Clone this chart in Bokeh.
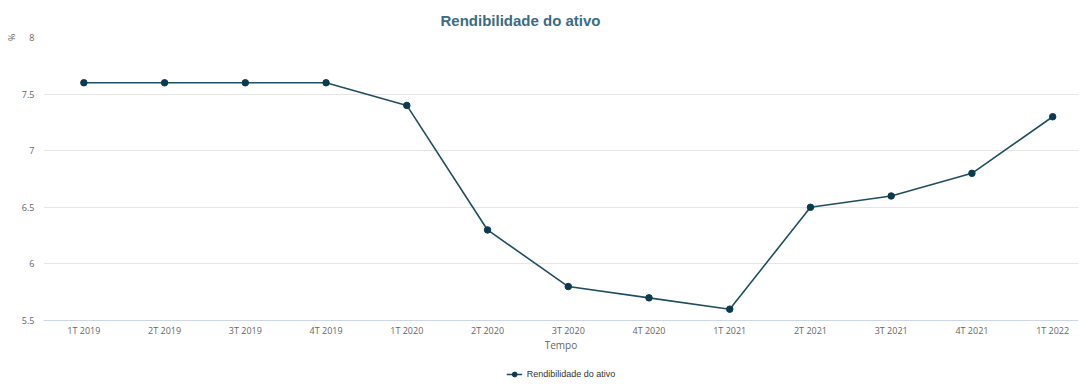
from bokeh.plotting import figure
from bokeh.models import Range1d, Legend, LegendItem, Title, FixedTicker
from bokeh.layouts import column
from bokeh.embed import file_html
from bokeh.resources import INLINE

categories = ["1T 2019", "2T 2019", "3T 2019", "4T 2019", "1T 2020", "2T 2020", "3T 2020",
              "4T 2020", "1T 2021", "2T 2021", "3T 2021", "4T 2021", "1T 2022"]
values = [7.6, 7.6, 7.6, 7.6, 7.4, 6.3, 5.8, 5.7, 5.6, 6.5, 6.6, 6.8, 7.3]
y_ticks = [5.5, 6, 6.5, 7, 7.5, 8]
y_tick_labels = ["5.5", "6", "6.5", "7", "7.5", "8"]
title_text = "Rendibilidade do ativo"
series_name = "Rendibilidade do ativo"
y_title = "%"

LINE_COLOR = "#1f4e63"
MARKER_COLOR = "#0c3a4f"

xs = list(range(len(categories)))

p = figure(width=1080, height=354, output_backend="svg", toolbar_location=None,
           x_range=Range1d(-0.5, 12.32), y_range=Range1d(5.5, 8),
           min_border_left=43, min_border_right=2, min_border_top=37, min_border_bottom=32)
p.outline_line_color = None
p.background_fill_color = "white"

p.title = Title(text=title_text, align="left", offset=397, standoff=18,
                text_font="Liberation Sans", text_font_size="15px",
                text_font_style="bold", text_color="#3a6b85")

line = p.line(xs, values, line_color=LINE_COLOR, line_width=1.6)
pts = p.scatter(xs, values, size=6.5, fill_color=MARKER_COLOR, line_color=MARKER_COLOR)

# axes
p.xaxis.ticker = FixedTicker(ticks=xs)
p.xaxis.major_label_overrides = {i: c for i, c in enumerate(categories)}
p.xaxis.axis_line_color = "#ccd6eb"
p.xaxis.major_tick_line_color = None
p.xaxis.minor_tick_line_color = None
p.xaxis.major_label_text_font = "Open Sans"
p.xaxis.major_label_text_font_size = "9px"
p.xaxis.major_label_text_color = "#666666"
p.xaxis.major_label_standoff = -3
p.xaxis.axis_label = "Tempo"
p.xaxis.axis_label_text_font = "Open Sans"
p.xaxis.axis_label_text_font_size = "10px"
p.xaxis.axis_label_text_font_style = "normal"
p.xaxis.axis_label_text_color = "#666666"
p.xaxis.axis_label_standoff = -2

p.yaxis.ticker = FixedTicker(ticks=y_ticks)
p.yaxis.major_label_overrides = {t: l for t, l in zip(y_ticks, y_tick_labels)}
p.yaxis.axis_line_color = None
p.yaxis.major_tick_line_color = None
p.yaxis.minor_tick_line_color = None
p.yaxis.major_label_text_font = "Open Sans"
p.yaxis.major_label_text_font_size = "9px"
p.yaxis.major_label_text_color = "#666666"
p.yaxis.major_label_standoff = 3

p.xgrid.visible = False
p.ygrid.grid_line_color = "#e6e6e6"
p.ygrid.grid_line_width = 1

# y axis title "%" near the top, rotated
p.add_layout(Title(text=y_title, align="right", offset=-4, standoff=2,
                   text_font="Open Sans", text_font_size="9px",
                   text_font_style="normal", text_color="#666666"), "left")

# legend strip
lg = figure(width=1080, height=26, output_backend="svg", toolbar_location=None,
            x_range=Range1d(0, 1), y_range=Range1d(0, 1),
            min_border=0)
lg.outline_line_color = None
lg.axis.visible = False
lg.grid.visible = False
l_line = lg.line([5, 6], [5, 6], line_color=LINE_COLOR, line_width=1.6)
l_pts = lg.scatter([5], [5], size=6.5, fill_color=MARKER_COLOR, line_color=MARKER_COLOR)
legend = Legend(items=[LegendItem(label=series_name, renderers=[l_line, l_pts])],
                location="bottom_center", orientation="horizontal",
                label_text_font="Liberation Sans", label_text_font_size="9px",
                label_text_color="#333333", border_line_color=None,
                background_fill_alpha=0, padding=2, margin=0,
                glyph_width=16, glyph_height=12, label_height=12)
lg.add_layout(legend)

layout = column(p, lg, spacing=0)
open("out.html", "w").write(file_html(layout, INLINE))
